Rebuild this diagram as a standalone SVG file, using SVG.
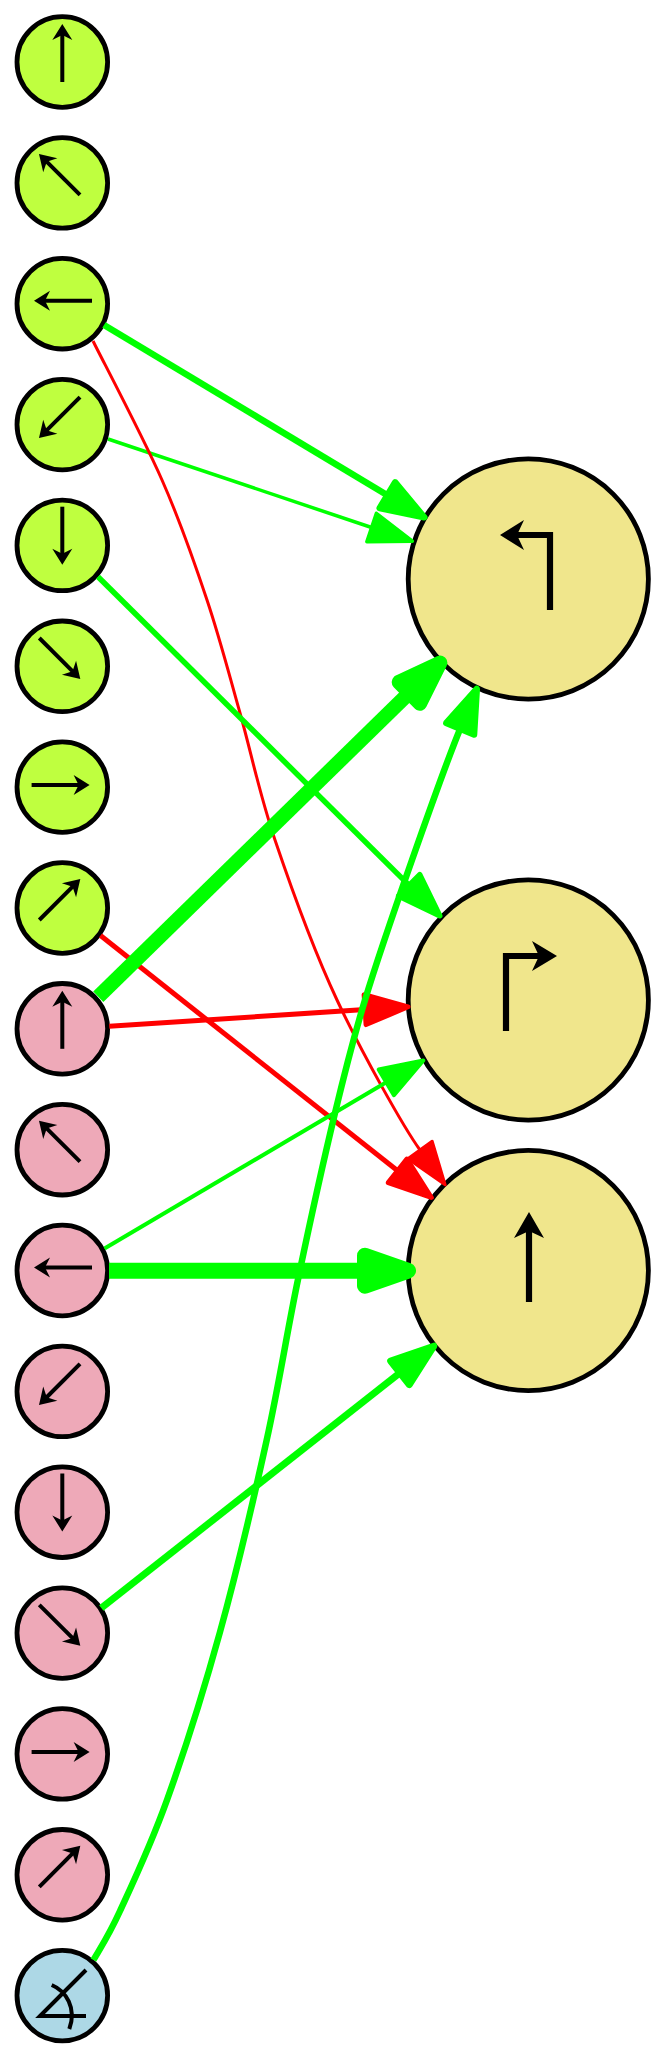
<svg xmlns="http://www.w3.org/2000/svg" width="667" height="2058" viewBox="0 0 667 2058">
<style>
.n{stroke:#000;stroke-width:4.8}
.a{fill:#bfff3f}.b{fill:#eea9b8}.k{fill:#f0e68c}.l{fill:#add8e6}
.ln{fill:none;stroke:#000;stroke-width:4}
.bl{fill:none;stroke:#000;stroke-width:6.2}
.e{fill:none}
.g{stroke:#0f0}.r{stroke:#f00}
.hd{stroke-linejoin:round}
</style>
<defs>
<g id="arrow"><path class="ln" d="M0,0H50"/><path d="M58,0L42,-10 47,0 42,10Z"/></g>
<path id="h" class="hd" d="M0,-15L43,0 0,15Z"/>
<marker id="g35" markerUnits="userSpaceOnUse" orient="auto" markerWidth="1" markerHeight="1" overflow="visible"><use href="#h" fill="#0f0" stroke="#0f0" stroke-width="3.5"/></marker>
<marker id="g4" markerUnits="userSpaceOnUse" orient="auto" markerWidth="1" markerHeight="1" overflow="visible"><use href="#h" fill="#0f0" stroke="#0f0" stroke-width="4"/></marker>
<marker id="g55" markerUnits="userSpaceOnUse" orient="auto" markerWidth="1" markerHeight="1" overflow="visible"><use href="#h" fill="#0f0" stroke="#0f0" stroke-width="5.5"/></marker>
<marker id="g65" markerUnits="userSpaceOnUse" orient="auto" markerWidth="1" markerHeight="1" overflow="visible"><use href="#h" fill="#0f0" stroke="#0f0" stroke-width="6.5"/></marker>
<marker id="g7" markerUnits="userSpaceOnUse" orient="auto" markerWidth="1" markerHeight="1" overflow="visible"><use href="#h" fill="#0f0" stroke="#0f0" stroke-width="7"/></marker>
<marker id="g145" markerUnits="userSpaceOnUse" orient="auto" markerWidth="1" markerHeight="1" overflow="visible"><use href="#h" fill="#0f0" stroke="#0f0" stroke-width="14.5"/></marker>
<marker id="g16" markerUnits="userSpaceOnUse" orient="auto" markerWidth="1" markerHeight="1" overflow="visible"><use href="#h" fill="#0f0" stroke="#0f0" stroke-width="16"/></marker>
<marker id="r3" markerUnits="userSpaceOnUse" orient="auto" markerWidth="1" markerHeight="1" overflow="visible"><use href="#h" fill="#f00" stroke="#f00" stroke-width="3"/></marker>
<marker id="r5" markerUnits="userSpaceOnUse" orient="auto" markerWidth="1" markerHeight="1" overflow="visible"><use href="#h" fill="#f00" stroke="#f00" stroke-width="5"/></marker>
</defs>
<g id="n1"><circle class="n a" cx="62.3" cy="62" r="45.3"/><use href="#arrow" transform="translate(62.3,82) rotate(-90)"/></g>
<g id="n2"><circle class="n a" cx="62.3" cy="182.9" r="45.3"/><use href="#arrow" transform="translate(80,194.9) rotate(-135)"/></g>
<g id="n3"><circle class="n a" cx="62.3" cy="303.7" r="45.3"/><use href="#arrow" transform="translate(92,300.7) rotate(180)"/></g>
<g id="n4"><circle class="n a" cx="62.3" cy="424.6" r="45.3"/><use href="#arrow" transform="translate(80,397.1) rotate(135)"/></g>
<g id="n5"><circle class="n a" cx="62.3" cy="545.4" r="45.3"/><use href="#arrow" transform="translate(62.3,506.7) rotate(90)"/></g>
<g id="n6"><circle class="n a" cx="62.3" cy="666.3" r="45.3"/><use href="#arrow" transform="translate(39.3,638) rotate(45)"/></g>
<g id="n7"><circle class="n a" cx="62.3" cy="787.1" r="45.3"/><use href="#arrow" transform="translate(31.6,785.1)"/></g>
<g id="n8"><circle class="n a" cx="62.3" cy="908" r="45.3"/><use href="#arrow" transform="translate(39.3,920) rotate(-45)"/></g>
<g id="n9"><circle class="n b" cx="62.3" cy="1028.8" r="45.3"/><use href="#arrow" transform="translate(62.3,1048.8) rotate(-90)"/></g>
<g id="n10"><circle class="n b" cx="62.3" cy="1149.7" r="45.3"/><use href="#arrow" transform="translate(80,1161.7) rotate(-135)"/></g>
<g id="n11"><circle class="n b" cx="62.3" cy="1270.5" r="45.3"/><use href="#arrow" transform="translate(92,1267.5) rotate(180)"/></g>
<g id="n12"><circle class="n b" cx="62.3" cy="1391.4" r="45.3"/><use href="#arrow" transform="translate(80,1363.9) rotate(135)"/></g>
<g id="n13"><circle class="n b" cx="62.3" cy="1512.2" r="45.3"/><use href="#arrow" transform="translate(62.3,1473.5) rotate(90)"/></g>
<g id="n14"><circle class="n b" cx="62.3" cy="1633.1" r="45.3"/><use href="#arrow" transform="translate(39.3,1604.8) rotate(45)"/></g>
<g id="n15"><circle class="n b" cx="62.3" cy="1753.9" r="45.3"/><use href="#arrow" transform="translate(31.6,1751.9)"/></g>
<g id="n16"><circle class="n b" cx="62.3" cy="1874.8" r="45.3"/><use href="#arrow" transform="translate(39.3,1886.8) rotate(-45)"/></g>
<g id="n17"><circle class="n l" cx="62.3" cy="1995.6" r="45.3"/><path class="ln" d="M86,1970L40,2016H86M51.7,1985C66,1991 77,2008 69.3,2029"/></g>
<g id="t1"><circle class="n k" cx="528.3" cy="579" r="120.1"/><path class="bl" d="M550,610V535H517"/><path d="M500,535L524,520 517,535 524,550Z"/></g>
<g id="t2"><circle class="n k" cx="528.3" cy="1000" r="120.1"/><path class="bl" d="M506,1031V956H539"/><path d="M557,956L532,941 539,956 532,971Z"/></g>
<g id="t3"><circle class="n k" cx="528.3" cy="1270.5" r="120.1"/><path class="bl" d="M529,1302V1230"/><path d="M529,1212L514,1238 529,1231 544,1238Z"/></g>
<g id="connectors">
<path class="e g" stroke-width="6.5" marker-end="url(#g65)" d="M104,325L387.4,495.2"/>
<path class="e g" stroke-width="3.5" marker-end="url(#g35)" d="M108,439L371.6,527.5"/>
<path class="e r" stroke-width="3" marker-end="url(#r3)" d="M93,341C104.5,364 143,437 162,480C181,523 194,561 207,600C220,638.8 228.7,673 240,713C251.3,753 258.8,792 275,840C291.2,887.8 312.8,948.3 337,1000C361.2,1051.7 403.6,1127.3 420,1150"/>
<path class="e g" stroke-width="5.5" marker-end="url(#g55)" d="M98,576.7L409.2,885.4"/>
<path class="e r" stroke-width="5" marker-end="url(#r5)" d="M100.5,935.5L397.6,1170.8"/>
<path class="e g" stroke-width="14.5" marker-end="url(#g145)" d="M98.3,996.7L409.4,692.8"/>
<path class="e r" stroke-width="5" marker-end="url(#r5)" d="M109.3,1026.3L365.1,1009.6"/>
<path class="e g" stroke-width="4" marker-end="url(#g4)" d="M104.5,1248.5L386.3,1082.3"/>
<path class="e g" stroke-width="16" marker-end="url(#g16)" d="M109,1270.7H365"/>
<path class="e g" stroke-width="7" marker-end="url(#g7)" d="M101.3,1608L400,1372.8"/>
<path class="e g" stroke-width="6.5" marker-end="url(#g65)" d="M93.5,1960C98,1951.8 107.75,1937.7 120,1911C132.25,1884.3 150.3,1846.5 167,1800C183.7,1753.5 203.4,1692 220,1632C236.6,1572 253.7,1499 266.7,1440C279.7,1381 286.9,1332.5 298.3,1278C309.7,1223.5 323.9,1159.3 335,1113C346.1,1066.7 352.2,1042.2 365,1000C377.8,957.8 396.1,905.2 412,860C427.9,814.8 451.3,750 460.2,728.7"/>
</g>
</svg>
